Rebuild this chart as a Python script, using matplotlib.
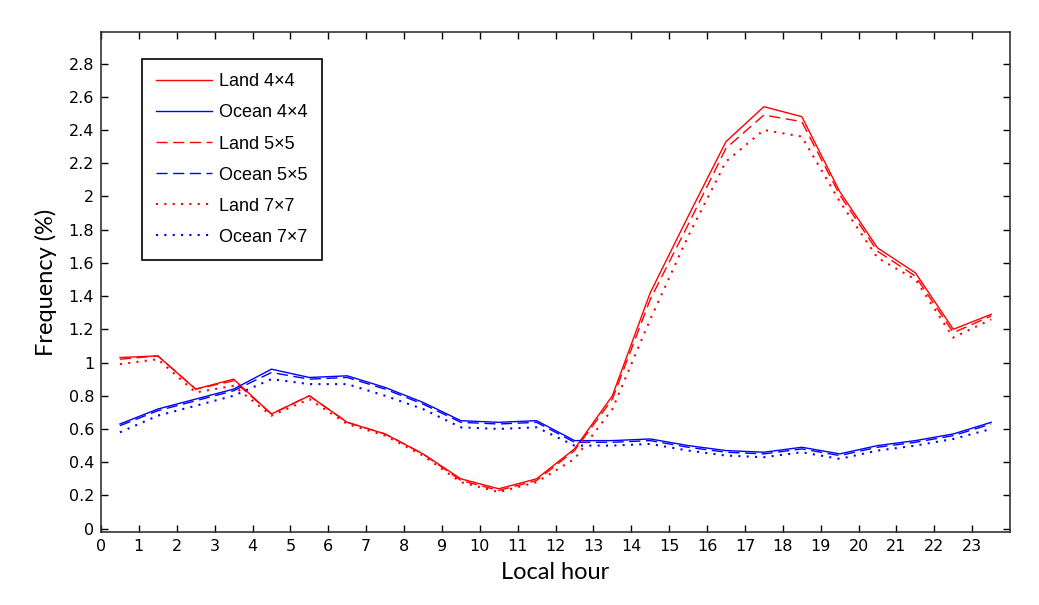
import numpy as np
import matplotlib
matplotlib.use('Agg')
import matplotlib.pyplot as plt

hours = np.arange(24) + 0.5

land_4x4 = [1.03, 1.04, 0.84, 0.90, 0.69, 0.80, 0.64, 0.57, 0.45, 0.30, 0.24, 0.30,
            0.48, 0.80, 1.42, 1.88, 2.33, 2.54, 2.48, 2.03, 1.69, 1.54, 1.20, 1.29]
land_5x5 = [1.02, 1.04, 0.84, 0.89, 0.69, 0.80, 0.64, 0.57, 0.45, 0.29, 0.23, 0.29,
            0.47, 0.78, 1.38, 1.83, 2.29, 2.49, 2.45, 2.01, 1.67, 1.52, 1.18, 1.28]
land_7x7 = [0.99, 1.02, 0.82, 0.86, 0.68, 0.78, 0.63, 0.56, 0.44, 0.28, 0.22, 0.28,
            0.42, 0.72, 1.26, 1.76, 2.21, 2.40, 2.36, 1.97, 1.63, 1.50, 1.15, 1.26]
ocean_4x4 = [0.63, 0.72, 0.78, 0.84, 0.96, 0.91, 0.92, 0.85, 0.76, 0.65, 0.64, 0.65,
             0.53, 0.53, 0.54, 0.50, 0.47, 0.46, 0.49, 0.45, 0.50, 0.53, 0.57, 0.64]
ocean_5x5 = [0.62, 0.71, 0.77, 0.83, 0.94, 0.90, 0.91, 0.84, 0.75, 0.64, 0.63, 0.64,
             0.52, 0.52, 0.53, 0.49, 0.46, 0.45, 0.48, 0.44, 0.49, 0.52, 0.56, 0.63]
ocean_7x7 = [0.58, 0.68, 0.74, 0.80, 0.90, 0.87, 0.87, 0.80, 0.72, 0.61, 0.60, 0.61,
             0.50, 0.50, 0.51, 0.47, 0.44, 0.43, 0.46, 0.42, 0.47, 0.50, 0.54, 0.60]

xticks = list(range(24))
yticks = [0, 0.2, 0.4, 0.6, 0.8, 1, 1.2, 1.4, 1.6, 1.8, 2, 2.2, 2.4, 2.6, 2.8]

fig = plt.figure(figsize=(10.39, 6.05), dpi=100)
ax = fig.add_axes([0.0972, 0.1207, 0.875, 0.8265])

lw = 1.0
ax.plot(hours, land_4x4, color='red', lw=lw, ls='-', label='Land 4×4')
ax.plot(hours, ocean_4x4, color='blue', lw=lw, ls='-', label='Ocean 4×4')
ax.plot(hours, land_5x5, color='red', lw=lw, ls=(0, (8, 4)), label='Land 5×5')
ax.plot(hours, ocean_5x5, color='blue', lw=lw, ls=(0, (8, 4)), label='Ocean 5×5')
ax.plot(hours, land_7x7, color='red', lw=1.5, ls=(0, (1, 3)), label='Land 7×7')
ax.plot(hours, ocean_7x7, color='blue', lw=1.5, ls=(0, (1, 3)), label='Ocean 7×7')

ax.set_xlim(0, 24)
ax.set_ylim(-0.02, 2.99)
ax.set_xticks(xticks)
ax.set_yticks(yticks)
ax.set_yticklabels([('%g' % v) for v in yticks])
ax.tick_params(direction='in', top=True, right=True, length=5, width=1,
               labelsize=11.5, colors='black', pad=5)
for s in ax.spines.values():
    s.set_linewidth(1.2)
    s.set_color('#333333')

ax.set_xlabel('Local hour', fontsize=17, family='Lato', labelpad=6)
ax.set_ylabel('Frequency (%)', fontsize=17, family='Lato', labelpad=8)

leg = ax.legend(loc='upper left', bbox_to_anchor=(0.045, 0.946), borderaxespad=0,
                fancybox=False, edgecolor='black', framealpha=1,
                handlelength=3.1, labelspacing=0.78, borderpad=0.8,
                handletextpad=0.35,
                prop={'family': 'Liberation Sans', 'size': 13})
leg.get_frame().set_linewidth(1.2)

fig.savefig('out.png', dpi=100)
